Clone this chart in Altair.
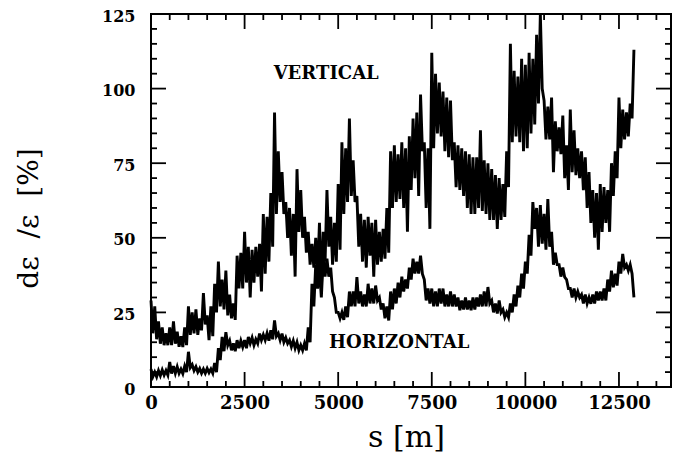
import altair as alt
import pandas as pd

# ---- data (s in metres, d-eps/eps in %) ----
# vertical: envelope tops at s = 0,100,...,12900 ; bottoms at s = 50,150,...,12850
vert_upper = [29, 27, 22, 20, 18, 20, 22, 18.5, 17, 20,
              27, 25, 26, 23, 31.5, 24, 27, 34.6, 42, 36,
              39, 31, 28, 44, 45, 52, 47, 46, 47, 48,
              58, 57, 65, 92, 79, 72, 62, 60, 58, 73,
              66, 57, 52, 48, 50, 55, 52, 66, 57, 55,
              68, 82, 80, 90, 76, 64, 58, 56, 57, 55,
              56, 52, 53, 60, 79, 81, 78, 82, 80, 84,
              90, 92, 98, 82, 80, 112, 105, 102, 99, 97,
              96, 82, 81, 80, 79, 78, 77, 77, 86, 76,
              75, 73, 71, 70, 68, 79, 115, 106, 104, 110,
              108, 112, 110, 118, 125, 96, 94, 97, 89, 87,
              91, 81, 93, 86, 80, 79, 77, 72, 66, 65,
              68, 67, 66, 75, 79, 97, 93, 92, 95, 113]
vert_lower = [18, 16, 14.5, 14, 14, 14, 14.5, 13.5, 13.4, 14,
              17.5, 18, 17.5, 19, 21, 15.7, 17, 25, 27, 26,
              24, 23, 22.5, 33, 33, 35, 30, 35, 37, 32,
              38, 42, 47, 58, 62, 58, 50, 44, 37, 52,
              50, 45, 41, 40, 38, 33, 42, 47, 41, 42,
              46, 58, 62, 64, 62, 47, 42, 40, 44, 37,
              41, 42, 43, 45, 60, 62, 63, 60, 52, 66,
              70, 64, 79, 60, 53, 80, 85, 84, 79, 77,
              76, 67, 66, 64, 60, 58, 58, 60, 59, 58,
              56, 56, 53, 56, 57, 67, 82, 84, 82, 79,
              80, 85, 88, 95, 100, 83, 83, 72, 79, 78,
              70, 66, 72, 71, 70, 66, 60, 55, 50, 46,
              52, 55, 52, 64, 70, 80, 83, 84, 90]
# horizontal: same sampling
hor_upper = [6, 5, 5.5, 5.7, 5.5, 8.4, 7, 6.8, 6, 7,
             11.8, 7.5, 6.8, 6.2, 6, 6.2, 6, 8, 13, 16.8,
             18.4, 15.5, 14.6, 15.7, 15.5, 15.7, 16.8, 16.5, 16, 17.9,
             17.5, 18, 19, 22.3, 18, 17.9, 16.5, 15.7, 15.5, 15,
             14, 14.6, 20, 34.6, 41, 40, 43, 43, 40, 30,
             25, 25, 27, 32, 32, 36.8, 32, 31, 34.6, 33,
             34, 30, 28, 27, 32, 33, 35, 37, 36, 40,
             43, 42, 44, 36, 33, 33, 32, 33, 33, 31,
             32, 31, 30, 29, 30, 29, 30, 30, 31, 32,
             33.5, 29, 28, 29, 26, 25, 28, 31, 34, 38,
             42, 51, 62, 60, 61, 58, 63, 52, 45, 41,
             40, 36, 33, 33, 32, 31, 31, 30, 31, 32,
             32, 33, 36, 39, 38, 42, 44.6, 41, 41, 30]
hor_lower = [3.5, 3.4, 3.8, 4, 4, 4.5, 4.6, 4.6, 4.5, 5,
             6.5, 5.5, 5, 4.6, 4.6, 4.8, 4.6, 5, 9, 12,
             14, 12.3, 12, 13, 13.4, 13, 14.6, 14, 14.6, 15.7,
             15.7, 15.5, 16, 17, 15.7, 15, 14.6, 13.5, 13, 12.3,
             12.3, 12.3, 15, 27, 33, 30, 37, 37, 32, 25,
             23, 22.5, 23.4, 27, 27, 28, 27, 27, 28, 28,
             29, 26, 23, 22.3, 26, 28, 30, 32, 33, 36,
             38, 38, 37.9, 29, 28, 27, 27, 28, 27, 27,
             27, 27, 25.7, 26, 26, 25.7, 26, 27, 27, 27,
             28, 25, 24.6, 25, 23.4, 23.4, 25, 27, 30, 33,
             38, 44, 53, 47, 48, 46, 47, 41, 41, 37,
             36.8, 33, 30, 30, 30, 28, 28, 27.9, 28, 29,
             29, 29, 32, 33.4, 34, 38, 40, 39, 38]

x_major = [0, 2500, 5000, 7500, 10000, 12500]
x_minor = [500, 1000, 1500, 2000, 3000, 3500, 4000, 4500, 5500, 6000, 6500, 7000,
           8000, 8500, 9000, 9500, 10500, 11000, 11500, 12000, 13000, 13500]
y_major = [0, 25, 50, 75, 100, 125]
y_minor = [5, 10, 15, 20, 30, 35, 40, 45, 55, 60, 65, 70, 80, 85, 90, 95,
           105, 110, 115, 120]

labels = ["VERTICAL", "HORIZONTAL"]
label_s = [4680, 6630]
label_v = [105, 14.8]

X_MAX = 13890
W, H = 520, 373
FONT = "DejaVu Serif"


def zig(upper, lower, name):
    rows = [(i * 100, u) for i, u in enumerate(upper)]
    rows += [(i * 100 + 50, l) for i, l in enumerate(lower)]
    rows.sort()
    return pd.DataFrame({"s": [r[0] for r in rows], "v": [r[1] for r in rows],
                         "series": name})


lines_df = pd.concat([zig(vert_upper, vert_lower, "vertical"),
                      zig(hor_upper, hor_lower, "horizontal")], ignore_index=True)

xscale = alt.Scale(domain=[0, X_MAX], nice=False, zero=False)
yscale = alt.Scale(domain=[0, 125], nice=False, zero=False)

lines = alt.Chart(lines_df).mark_line(color="black", strokeWidth=2.9,
                                      strokeJoin="miter").encode(
    x=alt.X("s:Q", scale=xscale,
            axis=alt.Axis(values=x_major, format="d", ticks=False, domain=False,
                          grid=False, labelFlush=False,
                          labelFont=FONT, labelFontWeight="bold", labelFontSize=18,
                          labelColor="black", labelPadding=7,
                          title="s\u00a0[m]", titleFont=FONT, titleFontSize=30,
                          titleFontWeight="normal", titleColor="black",
                          titleX=255, titleY=59, titleBaseline="alphabetic",
                          titleAlign="center")),
    y=alt.Y("v:Q", scale=yscale,
            axis=alt.Axis(values=y_major, ticks=False, domain=False, grid=False,
                          labelFont=FONT, labelFontWeight="bold", labelFontSize=16,
                          labelColor="black", labelPadding=16, labelOffset=2,
                          title="d\u03b5\u00a0\u00a0/\u03b5\u00a0\u00a0[%]",
                          titleFont=FONT,
                          titleFontSize=28, titleFontWeight="normal",
                          titleColor="black", titleAngle=270,
                          titleX=-114, titleY=204, titleBaseline="alphabetic",
                          titleAlign="center")),
    detail="series:N",
    order="s:Q",
)

xmaj_df = pd.DataFrame({"t": x_major})
xmin_df = pd.DataFrame({"t": x_minor})
ymaj_df = pd.DataFrame({"t": y_major})
ymin_df = pd.DataFrame({"t": y_minor})

tick_layers = []
for df, length in ((xmaj_df, 15), (xmin_df, 6)):
    tick_layers.append(alt.Chart(df).mark_rule(color="black", strokeWidth=1.8).encode(
        x=alt.X("t:Q", scale=xscale), y=alt.value(H), y2=alt.value(H - length)))
    tick_layers.append(alt.Chart(df).mark_rule(color="black", strokeWidth=1.8).encode(
        x=alt.X("t:Q", scale=xscale), y=alt.value(0), y2=alt.value(length)))
for df, length in ((ymaj_df, 15), (ymin_df, 6)):
    tick_layers.append(alt.Chart(df).mark_rule(color="black", strokeWidth=1.8).encode(
        y=alt.Y("t:Q", scale=yscale), x=alt.value(0), x2=alt.value(length)))
    tick_layers.append(alt.Chart(df).mark_rule(color="black", strokeWidth=1.8).encode(
        y=alt.Y("t:Q", scale=yscale), x=alt.value(W), x2=alt.value(W - length)))

text_df = pd.DataFrame({"label": labels, "s": label_s, "v": label_v})
texts = alt.Chart(text_df).mark_text(font=FONT, fontWeight="bold", fontSize=18,
                                     color="black", align="center",
                                     baseline="middle").encode(
    x=alt.X("s:Q", scale=xscale), y=alt.Y("v:Q", scale=yscale), text="label:N")

chart = alt.layer(lines, *tick_layers, texts).properties(
    width=W, height=H,
    autosize=alt.AutoSizeParams(type="none"),
    padding={"left": 143, "top": 6, "right": 1, "bottom": 68},
    background="white",
).configure_view(stroke="black", strokeWidth=2)

chart.save("out.html", embed_options={"renderer": "svg", "actions": False})
